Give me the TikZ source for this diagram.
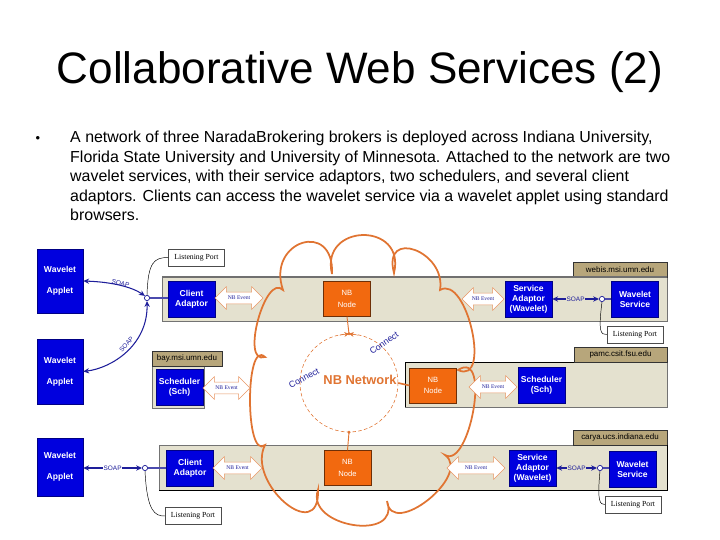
\documentclass[tikz,border=0pt]{standalone}
\usepackage{fontspec}
\setmainfont{Liberation Sans}
\newfontfamily\timesfont{Liberation Serif}
\usetikzlibrary{arrows.meta,positioning,calc,shapes.arrows}
\definecolor{nbblue}{HTML}{0000DE}
\definecolor{nbnavy}{HTML}{1E1E9A}
\definecolor{nborange}{HTML}{F2690F}
\definecolor{nbcloud}{HTML}{E07432}
\definecolor{nbband}{HTML}{E4E1CF}
\definecolor{nbtab}{HTML}{B7A67B}
\definecolor{nbframe}{HTML}{707070}

\begin{document}
\begin{tikzpicture}[x=0.03cm, y=-0.03cm,
  bluebox/.style={draw=nbblue!60!black, fill=nbblue, text=white, font=\fontsize{7.3}{8.6}\selectfont\bfseries, align=center, minimum width=1.41cm, minimum height=1.07cm, inner sep=0pt},
  applet/.style={bluebox, minimum width=1.38cm},
  nbnode/.style={draw=nborange!45!black, fill=nborange, text=white, font=\fontsize{6.5}{10}\selectfont, align=center, minimum width=1.4cm, minimum height=1.05cm, inner sep=0pt},
  nbevent/.style={double arrow, draw=nbcloud!75, fill=white, text=nbnavy, font=\timesfont\fontsize{4.8}{5}\selectfont, inner xsep=1pt, inner ysep=3.3pt, double arrow head extend=4.6pt},
  band/.style={draw=black!55, fill=nbband, line width=0.6pt},
  hosttab/.style={draw=black!80, fill=nbtab, line width=0.5pt},
  hostlabel/.style={font=\fontsize{6.8}{7}\selectfont, inner sep=0pt},
  port/.style={circle, draw=nbnavy, fill=white, inner sep=0pt, minimum size=4.5pt, line width=0.6pt},
  listen/.style={draw=black!70, fill=white, font=\timesfont\fontsize{6.6}{7}\selectfont, minimum width=1.68cm, minimum height=0.5cm, inner sep=0pt},
  soap/.style={nbnavy, line width=0.9pt, {Stealth[length=5pt,width=4.5pt]}-{Stealth[length=5pt,width=4.5pt]}},
  soaplabel/.style={font=\fontsize{5.5}{6}\selectfont, text=nbnavy, inner sep=0.6pt},
  connect/.style={font=\fontsize{7.5}{8}\selectfont, text=nbnavy, inner sep=0pt},
  bodytext/.style={font=\fontsize{13.6}{16}\selectfont, inner sep=0pt, anchor=base west},
]
\useasboundingbox (0,0) rectangle (720,540);

% title and bullet text
\node[font=\fontsize{37.6}{40}\selectfont, anchor=base] (title) at (360,84) {Collaborative Web Services (2)};
\node[font=\fontsize{11}{12}\selectfont] (bullet) at (38,139) {•};
\node[bodytext] (body0) at (70,143) {A network of three NaradaBrokering brokers is deployed across Indiana University,};
\node[bodytext] (body1) at (70,162.5) {Florida State University and University of Minnesota. Attached to the network are two};
\node[bodytext] (body2) at (70,182) {wavelet services, with their service adaptors, two schedulers, and several client};
\node[bodytext] (body3) at (70,201.5) {adaptors. Clients can access the wavelet service via a wavelet applet using standard};
\node[bodytext] (body4) at (70,221) {browsers.};

% host bands with their name tabs
\foreach \xa/\ya/\xb/\yb/\ta/\tb/\host in {
  162/277/667/321/573/667/webis.msi.umn.edu,
  152/366/204/408/152/222/bay.msi.umn.edu,
  405/362/667/407/574/667/pamc.csit.fsu.edu,
  159/445/667/490/573/667/carya.ucs.indiana.edu
} {
  \draw[band] (\xa,\ya) rectangle (\xb,\yb);
  \draw[hosttab] (\ta,\ya-15) rectangle (\tb,\ya);
  \node[hostlabel] at ({(\ta+\tb)/2},\ya-7.5) {\host};
}
\draw[nbframe, line width=1.6pt] (162,277) -- (667,277);
\draw[black, line width=0.8pt] (405,407) -- (405,362) -- (574,362);
\draw[black, line width=0.8pt] (159,490) -- (667,490) -- (667,445);

% the broker cloud
\draw[nbcloud, line width=1.5pt]
  (283,290) .. controls (266,241) and (334.5,219) .. (332,274)
  .. controls (319.6,222.9) and (406.4,221.5) .. (394,273)
  .. controls (382,227.6) and (446.5,251.4) .. (440,290)
  .. controls (467,274) and (492,386) .. (458,370)
  .. controls (492,348) and (469.5,469.7) .. (445,455)
  .. controls (472.6,475) and (391.4,539.5) .. (387,501)
  .. controls (401.5,542.5) and (305,527) .. (318,490)
  .. controls (320,546) and (245.7,483) .. (265,445)
  .. controls (245,461) and (245,338) .. (265,357)
  .. controls (240,365.7) and (265.3,272) .. cycle;

% NB network ring
\node[circle, draw=nbcloud, densely dashed, line width=0.5pt, minimum size=2.94cm] (net) at (349,383) {};
\node[font=\fontsize{11}{12}\selectfont\bfseries, text=nbcloud, inner sep=0pt] (netlabel) at (360,380) {NB Network};
\node[connect, rotate=35] (conn1) at (384,343) {Connect};
\node[connect, rotate=28] (conn2) at (304,378) {Connect};

% applets
\node[applet, minimum height=1.92cm] (app1) at (60,281) {Wavelet\\[9pt]Applet};
\node[applet, minimum height=1.95cm] (app2) at (60,371.5) {Wavelet\\[9pt]Applet};
\node[applet, minimum height=1.74cm] (app3) at (60,467) {Wavelet\\[9pt]Applet};

% adaptors, services and schedulers
\node[bluebox] (clad1) at (191.5,299) {Client\\Adaptor};
\node[bluebox] (clad3) at (190,468) {Client\\Adaptor};
\node[bluebox] (sad1) at (528.5,299.5) {Service\\Adaptor\\(Wavelet)};
\node[bluebox] (sad3) at (532.5,468.5) {Service\\Adaptor\\(Wavelet)};
\node[bluebox] (ws1) at (635,299) {Wavelet\\Service};
\node[bluebox] (ws3) at (632.5,469.5) {Wavelet\\Service};
\node[bluebox] (sch1) at (179.5,387.5) {Scheduler\\(Sch)};
\node[bluebox] (sch2) at (541.5,385.5) {Scheduler\\(Sch)};
\node[nbnode] (nbn1) at (347,299) {NB\\Node};
\node[nbnode] (nbn2) at (433,385.5) {NB\\Node};
\node[nbnode] (nbn3) at (347.5,468) {NB\\Node};

% NB events
\foreach \nm/\xc/\yc/\len in {
  ev1/239/298/1.44cm, ev2/483/299/1.26cm, ev3/226.5/388/1.41cm,
  ev4/493/387/1.44cm, ev5/237.5/468/1.47cm, ev6/476/468/1.74cm
} {
  \node[nbevent, minimum height=\len] (\nm) at (\xc,\yc) {NB Event};
}

% broker links
\draw[nbcloud, line width=0.8pt] (nbn1.south) -- (net.north);
\draw[nbcloud, line width=0.8pt] (nbn3.north) -- (net.south);
\draw[nbcloud, line width=1.4pt] (nbn2.west) -- (net.east);
\fill[nbcloud] (net.north) circle (1.4pt);
\fill[nbcloud] (net.south) circle (1.4pt);
\draw[nbcloud, -{Stealth[length=4pt,width=4pt]}] ([xshift=-8pt,yshift=-1.3pt]net.north) -- (net.north);
\draw[nbcloud, -{Stealth[length=4pt,width=4pt]}] ([xshift=8pt,yshift=-1.3pt]net.north) -- (net.north);

% listening ports
\node[port] (p1) at (147,298) {};
\node[port] (p3) at (145,468) {};
\node[port] (q1) at (602,299) {};
\node[port] (q3) at (600,468) {};
\draw[nbnavy!80, line width=1pt] (p1) -- (p1 -| clad1.west);
\draw[nbnavy!80, line width=1pt] (p3) -- (p3 -| clad3.west);
\draw[nbnavy!80, line width=1pt] (q1) -- (q1 -| ws1.west);
\draw[nbnavy!80, line width=1pt] (q3) -- (q3 -| ws3.west);

\node[listen] (lp1) at (196.5,257.5) {Listening Port};
\node[listen] (lp2) at (635,334.5) {Listening Port};
\node[listen] (lp3) at (193,516) {Listening Port};
\node[listen] (lp4) at (633,504.5) {Listening Port};
\draw[black, line width=0.4pt] (p1.north) .. controls (148,262) and (154,257.5) .. (lp1.west);
\draw[black, line width=0.4pt] (q1.south) .. controls (598,333) and (601,334.5) .. (lp2.west);
\draw[black, line width=0.4pt] (p3.south) .. controls (147,512) and (155,516) .. (lp3.west);
\draw[black, line width=0.4pt] (q3.south) .. controls (597,502) and (600,504.5) .. (lp4.west);

% SOAP connections
\draw[soap] (app1.east) .. controls (112,282) and (132,287) .. (p1.north west)
  node[soaplabel, pos=0.5, sloped, above=-1pt] (soap1) {SOAP};
\draw[soap] (app2.east) .. controls (112,368) and (148,345) .. (p1.south)
  node[soaplabel, pos=0.55, sloped, above=1pt] (soap2) {SOAP};
\draw[soap] (app3.east |- p3) -- (p3) node[soaplabel, midway, fill=white] (soap3) {SOAP};
\draw[soap] (sad1.east |- q1) -- (q1) node[soaplabel, midway, fill=nbband] (soap4) {SOAP};
\draw[soap] (sad3.east |- q3) -- (q3) node[soaplabel, midway, fill=nbband] (soap5) {SOAP};
\end{tikzpicture}
\end{document}
